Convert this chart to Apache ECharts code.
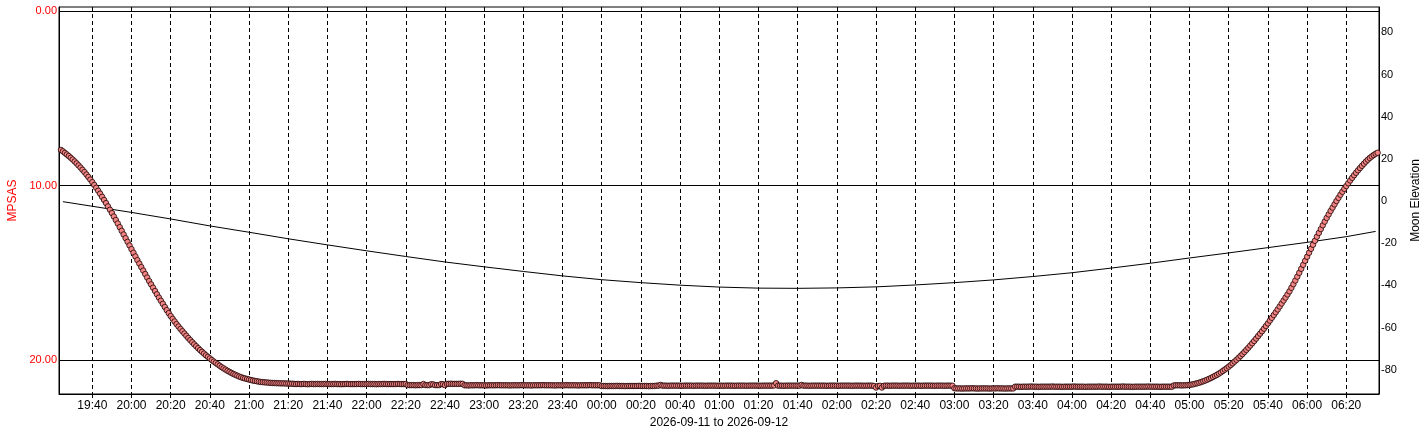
<!DOCTYPE html>
<html><head><meta charset="utf-8">
<script src="https://cdn.jsdelivr.net/npm/echarts@6.0.0/dist/echarts.min.js"></script>
<style>html,body{margin:0;padding:0;background:#fff;overflow:hidden}#c{width:1428px;height:432px}</style>
</head><body><div id="c"></div>
<script>
const xTickLabels = ["19:40","20:00","20:20","20:40","21:00","21:20","21:40","22:00","22:20","22:40","23:00","23:20","23:40","00:00","00:20","00:40","01:00","01:20","01:40","02:00","02:20","02:40","03:00","03:20","03:40","04:00","04:20","04:40","05:00","05:20","05:40","06:00","06:20"];
const mpsasTicks = [0, 10, 20];
const moonTicks = [-80, -60, -40, -20, 0, 20, 40, 60, 80];

const eveningStart = "19:24";
const eveningMpsas = [
7.95,8.03,8.12,8.21,8.30,8.40,8.50,8.61,8.72,8.84,
8.96,9.09,9.22,9.36,9.50,9.65,9.80,9.96,10.12,10.29,
10.46,10.64,10.82,11.00,11.19,11.38,11.57,11.77,11.97,12.17,
12.38,12.59,12.80,13.01,13.22,13.43,13.64,13.85,14.06,14.27,
14.47,14.67,14.87,15.07,15.27,15.47,15.66,15.85,16.04,16.23,
16.42,16.60,16.78,16.96,17.14,17.31,17.48,17.64,17.79,17.94,
18.08,18.22,18.35,18.48,18.61,18.74,18.86,18.98,19.10,19.21,
19.32,19.43,19.53,19.63,19.73,19.82,19.91,20.00,20.09,20.17,
20.25,20.33,20.41,20.48,20.55,20.62,20.68,20.74,20.80,20.85,
20.90,20.95,20.99,21.03,21.06,21.09,21.12,21.15,21.18,21.20,
21.22,21.24,21.26,21.27,21.28,21.29,21.30,21.31,21.32,21.32,
21.33,21.33,21.34,21.34,21.34,21.35,21.35,21.36,21.36
];

const nightStart = "21:23";
const nightMpsas = [
21.37,21.38,21.37,21.38,21.38,21.37,21.38,21.39,21.38,21.37,
21.38,21.38,21.37,21.38,21.38,21.38,21.37,21.38,21.38,21.38,
21.38,21.37,21.38,21.38,21.39,21.38,21.38,21.37,21.38,21.38,
21.38,21.38,21.38,21.37,21.38,21.38,21.38,21.38,21.37,21.38,
21.38,21.38,21.39,21.38,21.38,21.38,21.37,21.38,21.38,21.38,
21.38,21.38,21.38,21.37,21.38,21.38,21.38,21.38,
21.44,21.44,21.44,21.44,21.45,21.44,21.44,21.44,21.38,21.44,
21.44,21.44,21.39,21.40,21.44,21.44,21.44,21.38,21.39,21.44,
21.37,21.37,21.36,21.37,21.37,21.37,21.37,21.36,21.37,
21.45,21.45,21.46,21.45,21.45,21.45,21.44,21.45,21.45,21.45,
21.45,21.46,21.45,21.45,21.45,21.45,21.45,21.44,21.45,21.45,
21.45,21.45,21.45,21.46,21.45,21.45,21.45,21.45,21.45,21.44,
21.45,21.45,21.45,21.45,21.46,21.45,21.45,21.45,21.45,21.45,
21.44,21.45,21.45,21.45,21.45,21.45,21.46,21.45,21.45,21.45,
21.45,21.45,21.44,21.45,21.45,21.45,21.45,21.45,21.46,21.45,
21.45,21.45,21.45,21.45,21.44,21.45,21.45,21.45,21.45,21.45,
21.49,21.49,21.49,21.50,21.49,21.49,21.49,21.49,21.48,21.49,
21.49,21.49,21.50,21.49,21.49,21.49,21.49,21.49,21.49,21.48,
21.49,21.49,21.49,21.49,21.50,21.49,21.49,21.49,21.47,21.47,
21.43,21.47,21.47,21.47,21.48,21.47,21.47,21.47,21.47,21.47,
21.47,21.48,21.47,21.47,21.47,21.47,21.47,21.48,21.47,21.47,
21.47,21.47,21.47,21.48,21.47,21.47,21.47,21.47,21.47,21.48,
21.47,21.47,21.48,21.47,21.47,21.47,21.47,21.47,21.48,21.47,
21.47,21.47,21.47,21.47,21.48,21.47,21.47,21.47,21.47,21.47,
21.47,21.48,21.47,21.47,21.47,21.47,21.47,21.47,21.46,21.33,
21.47,21.47,21.47,21.48,21.47,21.47,21.47,21.47,21.47,21.47,
21.47,21.47,21.43,21.47,21.47,21.47,21.48,21.47,21.47,21.47,
21.47,21.47,21.47,21.47,21.47,21.48,21.47,21.47,21.47,21.47,
21.47,21.48,21.47,21.47,21.47,21.47,21.47,21.47,21.48,21.47,
21.47,21.47,21.47,21.47,21.48,21.47,21.47,21.47,21.47,21.49,
21.58,21.49,21.48,21.58,21.48,21.47,21.47,21.48,21.47,21.47,
21.47,21.47,21.48,21.47,21.47,21.47,21.47,21.47,21.48,21.47,
21.47,21.47,21.47,21.48,21.47,21.47,21.47,21.47,21.47,21.47,
21.48,21.47,21.47,21.47,21.47,21.48,21.47,21.47,21.47,21.48,
21.62,21.63,21.63,21.63,21.64,21.63,21.63,21.63,21.63,21.62,
21.63,21.63,21.64,21.63,21.63,21.63,21.63,21.63,21.64,21.63,
21.63,21.63,21.62,21.63,21.63,21.63,21.64,21.63,21.63,21.63,
21.63,
21.53,21.53,21.53,21.54,21.53,21.53,21.53,21.53,21.52,21.53,
21.53,21.53,21.54,21.53,21.53,21.53,21.53,21.53,21.53,21.52,
21.53,21.53,21.53,21.53,21.54,21.53,21.53,21.53,21.53,21.53,
21.52,21.53,21.53,21.53,21.53,21.53,21.54,21.53,21.53,21.53,
21.53,21.53,21.53,21.52,21.53,21.53,21.53,21.53,21.54,21.53,
21.53,21.53,21.53,21.53,21.53,21.52,21.53,21.53,21.53,21.53,
21.54,21.53,21.53,21.53,21.53,21.53,21.53,21.53,21.52,21.53,
21.53,21.53,21.53,21.53,21.54,21.53,21.53,21.53,21.53,21.53,
21.53,
21.46,21.45,21.45,21.45,21.46,21.45,21.45,21.44
];

const morningStart = "05:00";
const morningMpsas = [
21.43,21.41,21.39,21.36,21.33,21.30,21.26,21.22,21.18,21.13,
21.08,21.03,20.97,20.91,20.85,20.78,20.71,20.63,20.55,20.47,
20.38,20.29,20.19,20.09,19.99,19.88,19.77,19.66,19.54,19.42,
19.30,19.17,19.04,18.91,18.77,18.63,18.49,18.35,18.20,18.05,
17.90,17.74,17.58,17.42,17.26,17.10,16.93,16.76,16.59,16.42,
16.24,16.06,15.86,15.65,15.44,15.22,15.00,14.77,14.54,14.31,
14.08,13.85,13.62,13.39,13.16,12.93,12.71,12.49,12.27,12.06,
11.85,11.65,11.45,11.26,11.07,10.88,10.70,10.52,10.35,10.18,
10.02,9.86,9.70,9.55,9.40,9.26,9.12,8.99,8.86,8.74,
8.62,8.51,8.41,8.32,8.24,8.17,8.11
];

const moonTimes = ["19:25","20:00","20:20","20:40","21:00","21:20","21:40","22:00","22:20","22:40","23:00","23:20","23:40","00:00","00:20","00:40","01:00","01:20","01:40","02:00","02:20","02:40","03:00","03:20","03:40","04:00","04:20","04:40","05:00","05:20","05:40","06:00","06:20","06:35"];
const moonElevation = [-0.3,-5.4,-8.5,-11.8,-14.8,-17.9,-20.8,-23.6,-26.3,-28.9,-31.2,-33.4,-35.5,-37.3,-38.7,-39.9,-40.8,-41.3,-41.4,-41.2,-40.7,-39.8,-38.7,-37.4,-35.8,-34.0,-31.8,-29.5,-27.0,-24.6,-22.1,-19.6,-16.9,-14.4];

function toMin(s) { const p = s.split(':').map(Number); let v = p[0] * 60 + p[1]; if (p[0] < 12) v += 1440; return v; }
function fmt(v) { const t = ((Math.round(v) % 1440) + 1440) % 1440; const h = Math.floor(t / 60), m = t % 60; return String(h).padStart(2, '0') + ':' + String(m).padStart(2, '0'); }
function seg(start, vals) { const s = toMin(start); return vals.map((v, i) => [s + i, v]); }

const mpsasData = seg(eveningStart, eveningMpsas).concat(seg(nightStart, nightMpsas), seg(morningStart, morningMpsas));
const moonData = moonTimes.map((t, i) => [toMin(t), moonElevation[i]]);
const xTickValues = xTickLabels.map(toMin);

const font = "'Liberation Sans', Arial, sans-serif";
const chart = echarts.init(document.getElementById('c'), null, { renderer: 'canvas' });
chart.setOption({
  animation: false,
  backgroundColor: '#fff',
  grid: { left: 59, right: 49, top: 7, bottom: 38, outerBoundsMode: 'none', containLabel: false,
          show: true, borderColor: '#000', borderWidth: 1, backgroundColor: '#fff' },
  xAxis: {
    type: 'value', min: 1163, max: 1836.7,
    name: '2026-09-11 to 2026-09-12', nameLocation: 'middle', nameGap: 20,
    nameTextStyle: { color: '#000', fontSize: 12, fontFamily: font },
    axisLine: { show: true, onZero: false, lineStyle: { color: '#000', width: 1 } },
    axisTick: { show: true, length: 4, customValues: xTickValues, lineStyle: { color: '#000' } },
    axisLabel: { customValues: xTickValues, formatter: fmt, color: '#000', fontSize: 12, fontFamily: font, margin: 6, interval: 0 },
    splitLine: { show: true, lineStyle: { color: '#000', type: [4, 3], width: 1 } }
  },
  yAxis: [
    {
      type: 'value', inverse: true, min: -0.25, max: 21.95, position: 'left',
      name: 'MPSAS', nameLocation: 'middle', nameGap: 40, nameRotate: 90,
      nameTextStyle: { color: '#f00', fontSize: 12, fontFamily: font },
      axisLine: { show: true, lineStyle: { color: '#000' } },
      axisTick: { show: false, customValues: mpsasTicks },
      axisLabel: { customValues: mpsasTicks, formatter: v => v.toFixed(2), color: '#f00', fontSize: 11, fontFamily: font, margin: 2 },
      splitLine: { show: true, lineStyle: { color: '#000', width: 1 } }
    },
    {
      type: 'value', min: -91.5, max: 92, position: 'right',
      name: 'Moon Elevation', nameLocation: 'middle', nameGap: 31, nameRotate: 90,
      nameTextStyle: { color: '#000', fontSize: 12, fontFamily: font },
      axisLine: { show: true, lineStyle: { color: '#000' } },
      axisTick: { show: false, customValues: moonTicks },
      axisLabel: { customValues: moonTicks, color: '#000', fontSize: 11, fontFamily: font, margin: 2 },
      splitLine: { show: false }
    }
  ],
  series: [
    { name: 'Moon Elevation', type: 'line', yAxisIndex: 1, data: moonData, showSymbol: false, symbol: 'none',
      lineStyle: { color: '#000', width: 1 }, z: 2 },
    { name: 'MPSAS', type: 'scatter', yAxisIndex: 0, data: mpsasData, symbol: 'circle', symbolSize: 5.5,
      itemStyle: { color: '#f38585', borderColor: '#1a0000', borderWidth: 0.8, opacity: 1 }, z: 3 }
  ]
});
</script></body></html>
